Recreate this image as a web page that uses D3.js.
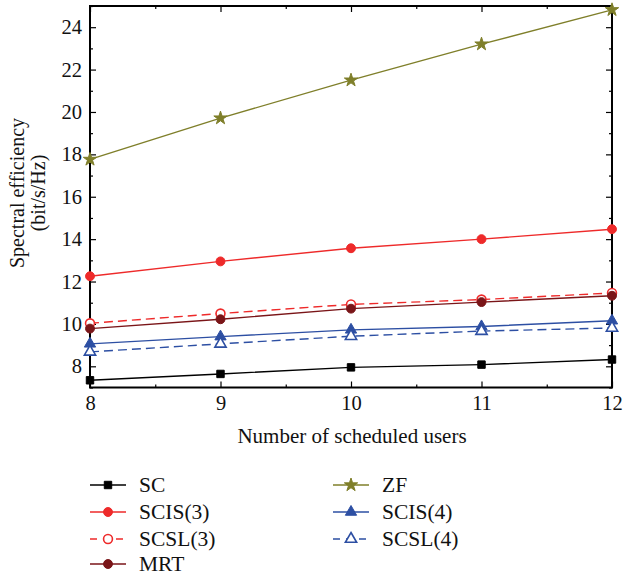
<!DOCTYPE html>
<html>
<head>
<meta charset="utf-8">
<script src="https://cdn.jsdelivr.net/npm/d3@7"></script>
<style>
  body { margin: 0; background: #fff; }
  svg text { font-family: "Liberation Serif", "DejaVu Serif", serif; }
</style>
</head>
<body>
<svg id="chart" width="623" height="575"></svg>
<script>
// users on the x axis
const users = [8, 9, 10, 11, 12];
// spectral efficiency
const sc     = [7.34, 7.64, 7.95, 8.08, 8.32];
const scis3  = [12.25, 12.95, 13.57, 14.0, 14.47];
const scsl3  = [10.03, 10.49, 10.92, 11.15, 11.46];
const mrt    = [9.78, 10.22, 10.72, 11.03, 11.33];
const zf     = [17.76, 19.71, 21.5, 23.2, 24.82];
const scis4  = [9.06, 9.4, 9.72, 9.88, 10.15];
const scsl4  = [8.68, 9.06, 9.42, 9.66, 9.81];
const yTicks = [8, 10, 12, 14, 16, 18, 20, 22, 24];

const series = [
  {name: 'SC',       vals: sc,    color: '#000000', marker: 'square',   fill: true,  dash: null},
  {name: 'SCIS(3)',  vals: scis3, color: '#ee2a2a', marker: 'circle',   fill: true,  dash: null},
  {name: 'SCSL(3)',  vals: scsl3, color: '#ee2a2a', marker: 'circle',   fill: false, dash: '9,5'},
  {name: 'MRT',      vals: mrt,   color: '#7a1518', marker: 'circle',   fill: true,  dash: null},
  {name: 'ZF',       vals: zf,    color: '#7f7f2a', marker: 'star',     fill: true,  dash: null},
  {name: 'SCIS(4)',  vals: scis4, color: '#2d4fa3', marker: 'triangle', fill: true,  dash: null},
  {name: 'SCSL(4)',  vals: scsl4, color: '#2d4fa3', marker: 'triangle', fill: false, dash: '9,5'}
];

const svg = d3.select('#chart');
const x = d3.scaleLinear().domain([8, 12]).range([90, 612]);
const y = d3.scaleLinear().domain([7, 25]).range([387.5, 6]);

const symSize = {square: 55, circle: 62, star: 55, triangle: 55};
const symType = {square: d3.symbolSquare, circle: d3.symbolCircle, star: d3.symbolStar, triangle: d3.symbolTriangle};

// frame with inward ticks on all four sides
const g = svg.append('g');
const yMinor = d3.range(7, 26, 1).filter(v => yTicks.indexOf(v) < 0);
const xMinor = [8.5, 9.5, 10.5, 11.5];

function inward(axis, len) { return axis.tickSizeInner(-len).tickSizeOuter(0).tickPadding(8); }

g.append('g').attr('transform', 'translate(0,387.5)')
  .call(inward(d3.axisBottom(x).tickValues(users).tickFormat(d3.format('d')), 6));
g.append('g').attr('transform', 'translate(0,387.5)')
  .call(inward(d3.axisBottom(x).tickValues(xMinor).tickFormat(''), 3));
g.append('g').attr('transform', 'translate(0,6)')
  .call(inward(d3.axisTop(x).tickValues(users).tickFormat(''), 6));
g.append('g').attr('transform', 'translate(0,6)')
  .call(inward(d3.axisTop(x).tickValues(xMinor).tickFormat(''), 3));
g.append('g').attr('transform', 'translate(90,0)')
  .call(inward(d3.axisLeft(y).tickValues(yTicks).tickFormat(d3.format('d')), 6));
g.append('g').attr('transform', 'translate(90,0)')
  .call(inward(d3.axisLeft(y).tickValues(yMinor).tickFormat(''), 3));
g.append('g').attr('transform', 'translate(612,0)')
  .call(inward(d3.axisRight(y).tickValues(yTicks).tickFormat(''), 6));
g.append('g').attr('transform', 'translate(612,0)')
  .call(inward(d3.axisRight(y).tickValues(yMinor).tickFormat(''), 3));

g.selectAll('.domain').remove();
g.selectAll('.tick line').attr('stroke', '#000').attr('stroke-width', 1.2);
g.selectAll('.tick text').attr('font-size', 20.5).attr('fill', '#111')
  .attr('font-family', '"Liberation Serif", serif');

svg.append('rect').attr('x', 90).attr('y', 6).attr('width', 522).attr('height', 381.5)
  .attr('fill', 'none').attr('stroke', '#000').attr('stroke-width', 2);

// axis titles
svg.append('text').attr('x', 352).attr('y', 443).attr('text-anchor', 'middle')
  .attr('font-size', 21).attr('fill', '#111').text('Number of scheduled users');
const yt = svg.append('text').attr('transform', 'translate(0,193) rotate(-90)')
  .attr('text-anchor', 'middle').attr('font-size', 20).attr('fill', '#111');
yt.append('tspan').attr('x', 0).attr('y', 24).text('Spectral efficiency');
yt.append('tspan').attr('x', 0).attr('y', 45).text('(bit/s/Hz)');

function drawMarker(sel, s, cx, cy) {
  sel.append('path')
    .attr('d', d3.symbol().type(symType[s.marker]).size(symSize[s.marker])())
    .attr('transform', 'translate(' + cx + ',' + cy + ')')
    .attr('fill', s.fill ? s.color : '#fff')
    .attr('stroke', s.color).attr('stroke-width', s.fill ? 1 : 1.6);
}

const line = d3.line().x((d, i) => x(users[i])).y(d => y(d));
const plot = svg.append('g');
series.forEach(s => {
  plot.append('path').attr('d', line(s.vals)).attr('fill', 'none')
    .attr('stroke', s.color).attr('stroke-width', 1.4)
    .attr('stroke-dasharray', s.dash);
  s.vals.forEach((v, i) => drawMarker(plot, s, x(users[i]), y(v)));
});

// legend, two columns
const legendRows = [485, 512, 539, 564];
const legendPos = [
  [90, legendRows[0]], [90, legendRows[1]], [90, legendRows[2]], [90, legendRows[3]],
  [333, legendRows[0]], [333, legendRows[1]], [333, legendRows[2]]
];
series.forEach((s, i) => {
  const [lx, ly] = legendPos[i];
  const lg = svg.append('g');
  lg.append('line').attr('x1', lx).attr('x2', lx + 36).attr('y1', ly).attr('y2', ly)
    .attr('stroke', s.color).attr('stroke-width', 1.4)
    .attr('stroke-dasharray', s.dash ? '7,6' : null);
  drawMarker(lg, s, lx + 18, ly);
  lg.append('text').attr('x', lx + 49).attr('y', ly + 7)
    .attr('font-size', 21.5).attr('fill', '#111').text(s.name);
});
</script>
</body>
</html>
